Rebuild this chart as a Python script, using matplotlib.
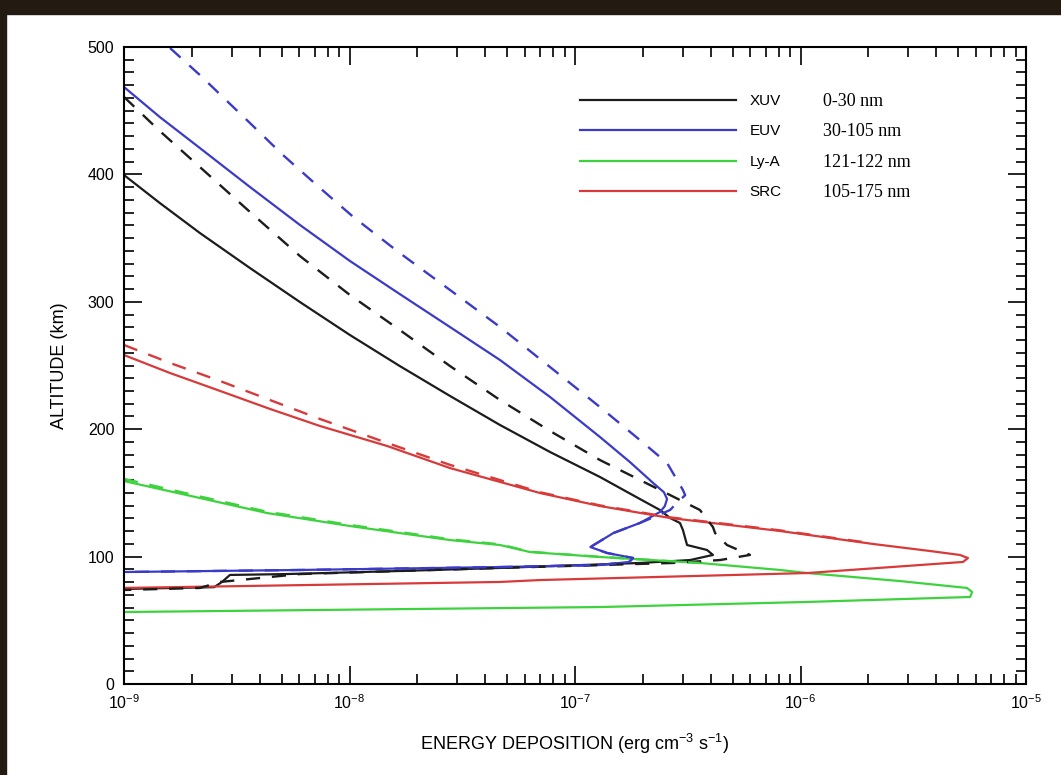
import numpy as np
import matplotlib
matplotlib.use("Agg")
import matplotlib.pyplot as plt
from matplotlib.patches import Rectangle
from matplotlib.ticker import MultipleLocator, LogLocator, NullFormatter

plt.rcParams['font.family'] = ['Liberation Sans Narrow', 'Liberation Sans', 'DejaVu Sans']
plt.rcParams['mathtext.default'] = 'regular'

# energy deposition (erg cm^-3 s^-1) vs altitude (km); solid and dashed cases per band
xuv_e = [1.00e-9, 1.44e-9, 2.17e-9, 3.62e-9, 6.03e-9, 1.005e-8, 1.67e-8, 2.79e-8, 4.65e-8, 7.75e-8,
         1.29e-7, 1.94e-7, 2.38e-7, 2.64e-7, 2.92e-7, 3.01e-7, 3.14e-7, 3.85e-7, 4.09e-7, 3.24e-7,
         1.94e-7, 4.65e-8, 1.67e-8, 5.28e-9, 2.95e-9, 2.72e-9, 2.51e-9, 1.00e-9]
xuv_z = [399.5, 377.6, 354.0, 326.5, 299.8, 273.9, 249.6, 226.1, 203.3, 182.1,
         162.5, 145.2, 136.6, 130.3, 126.4, 120.9, 109.1, 105.2, 101.3, 97.3,
         95.0, 91.1, 88.7, 86.3, 85.6, 80.1, 76.0, 74.6]
xuv2_e = [1.00e-9, 1.44e-9, 2.17e-9, 3.62e-9, 6.03e-9, 1.005e-8, 1.67e-8, 2.79e-8, 4.65e-8, 7.75e-8,
          1.29e-7, 2.15e-7, 3.58e-7, 4.09e-7, 4.18e-7, 4.72e-7, 5.97e-7, 4.40e-7, 2.72e-7, 4.65e-8,
          6.03e-9, 2.67e-9, 2.17e-9, 1.00e-9]
xuv2_z = [460.8, 434.1, 405.8, 370.5, 335.9, 305.3, 277.9, 249.6, 222.9, 198.6,
          175.8, 156.2, 136.6, 123.2, 118.5, 109.1, 101.3, 97.3, 95.0, 91.1,
          86.3, 80.1, 75.4, 73.8]

euv_e = [1.00e-9, 1.44e-9, 2.17e-9, 3.62e-9, 6.03e-9, 1.005e-8, 1.67e-8, 2.79e-8, 4.65e-8, 7.75e-8,
         1.29e-7, 1.75e-7, 2.22e-7, 2.48e-7, 2.56e-7, 2.50e-7, 2.38e-7, 1.94e-7, 1.48e-7, 1.17e-7,
         1.39e-7, 1.81e-7, 1.74e-7, 1.29e-7, 4.65e-8, 6.03e-9, 1.00e-9]
euv_z = [468.6, 445.1, 420.7, 390.1, 360.3, 332.0, 306.1, 280.2, 254.3, 225.3,
         193.9, 174.3, 157.8, 150.5, 145.2, 139.5, 135.0, 126.4, 118.5, 107.5,
         102.8, 98.9, 95.8, 93.4, 91.8, 89.5, 87.9]
euv2_e = [1.60e-9, 2.17e-9, 3.62e-9, 5.07e-9, 7.40e-9, 1.04e-8, 1.67e-8, 2.79e-8, 4.65e-8, 7.75e-8,
          1.29e-7, 1.94e-7, 2.56e-7, 3.01e-7, 3.08e-7, 2.83e-7, 2.64e-7, 2.38e-7, 1.94e-7, 1.48e-7,
          1.17e-7, 1.39e-7, 1.81e-7, 1.74e-7, 1.29e-7, 4.65e-8, 6.03e-9, 1.00e-9]
euv2_z = [499.2, 478.0, 440.3, 415.2, 389.3, 366.6, 338.3, 309.3, 280.2, 248.8,
          217.4, 191.5, 173.5, 152.3, 148.2, 142.1, 136.6, 133.0, 126.4, 118.5,
          107.5, 102.8, 98.9, 95.8, 93.4, 91.8, 89.5, 87.9]

lya_e = [1.00e-9, 2.17e-9, 4.31e-9, 1.005e-8, 1.67e-8, 2.79e-8, 4.65e-8, 5.53e-8, 6.31e-8, 1.29e-7,
         3.58e-7, 8.11e-7, 1.07e-6, 2.76e-6, 5.47e-6, 5.77e-6, 5.65e-6, 1.07e-6, 1.29e-7, 1.00e-9]
lya_z = [159.3, 146.0, 134.2, 124.0, 118.5, 113.0, 109.1, 106.0, 103.6, 99.7,
         95.0, 89.5, 87.1, 80.8, 75.4, 72.2, 68.3, 64.4, 60.4, 56.5]
lya2_e = [1.00e-9, 2.17e-9, 4.31e-9, 1.005e-8, 1.67e-8, 2.79e-8, 4.65e-8, 5.53e-8, 6.31e-8, 1.29e-7,
          3.58e-7]
lya2_z = [161.0, 147.2, 135.2, 124.8, 119.3, 113.6, 109.6, 106.3, 103.8, 99.8,
          95.0]

src_e = [1.00e-9, 1.60e-9, 2.67e-9, 4.44e-9, 7.40e-9, 1.47e-8, 2.79e-8, 7.00e-8, 1.29e-7, 2.64e-7,
         8.11e-7, 2.10e-6, 3.75e-6, 5.09e-6, 5.53e-6, 5.26e-6, 1.07e-6, 7.00e-8, 4.65e-8, 1.00e-9]
src_z = [258.2, 244.1, 230.0, 215.9, 202.5, 186.8, 169.5, 149.9, 139.7, 130.3,
         120.1, 109.9, 104.4, 101.3, 98.9, 95.8, 87.1, 81.6, 80.1, 75.4]
src2_e = [1.00e-9, 1.60e-9, 2.67e-9, 4.44e-9, 7.40e-9, 1.47e-8, 2.79e-8, 7.00e-8, 1.29e-7, 2.64e-7,
          8.11e-7, 2.10e-6]
src2_z = [266.1, 252.0, 237.8, 222.9, 208.0, 189.2, 172.0, 150.5, 140.2, 130.8,
          120.6, 110.3]

names = ['XUV', 'EUV', 'Ly-A', 'SRC']
ranges = ['0-30 nm', '30-105 nm', '121-122 nm', '105-175 nm']
colors = ['#1c1c1c', '#3b3bc8', '#3ed23e', '#d83a3a']

fig = plt.figure(figsize=(10.61, 7.75), dpi=100)
ax = fig.add_axes([124 / 1061, 1 - 684 / 775, 902 / 1061, 637 / 775])

solid = [(xuv_e, xuv_z), (euv_e, euv_z), (lya_e, lya_z), (src_e, src_z)]
dashed = [(xuv2_e, xuv2_z), (euv2_e, euv2_z), (lya2_e, lya2_z), (src2_e, src2_z)]
for (e, z), c, n in zip(solid, colors, names):
    ax.plot(e, z, color=c, lw=1.6, label=n)
for (e, z), c in zip(dashed, colors):
    ax.plot(e, z, color=c, lw=1.7, ls=(0, (6, 5)))

ax.set_xscale('log')
ax.set_xlim(1e-9, 1e-5)
ax.set_ylim(0, 500)
ax.yaxis.set_major_locator(MultipleLocator(100))
ax.yaxis.set_minor_locator(MultipleLocator(10))
ax.xaxis.set_minor_locator(LogLocator(subs=np.arange(2, 10)))
ax.xaxis.set_minor_formatter(NullFormatter())
ax.tick_params(which='both', direction='in', top=True, right=True, labelsize=11.5, width=1.2)
ax.tick_params(which='major', length=13, pad=7)
ax.tick_params(which='minor', length=7)
for s in ax.spines.values():
    s.set_linewidth(1.5)

ax.set_xlabel('ENERGY DEPOSITION (erg cm$^{-3}$ s$^{-1}$)', fontsize=13, labelpad=14)
ax.set_ylabel('ALTITUDE (km)', fontsize=13, labelpad=14)

leg = ax.legend(loc='upper left', bbox_to_anchor=(0.49, 0.948), frameon=False, fontsize=11,
                handlelength=10.2, handletextpad=0.9, labelspacing=1.08)
for i, r in enumerate(ranges):
    ax.text(0.775, 0.915 - i * 0.048, r, transform=ax.transAxes, va='center', ha='left',
            fontsize=13, family='Liberation Serif')

# dark frame along the top and left edges
fig.add_artist(Rectangle((0, 1 - 14 / 775), 1, 14 / 775, transform=fig.transFigure,
                         color='#231a12', zorder=-1))
fig.add_artist(Rectangle((0, 0), 6 / 1061, 1, transform=fig.transFigure,
                         color='#231a12', zorder=-1))

fig.savefig('out.png', dpi=100)
